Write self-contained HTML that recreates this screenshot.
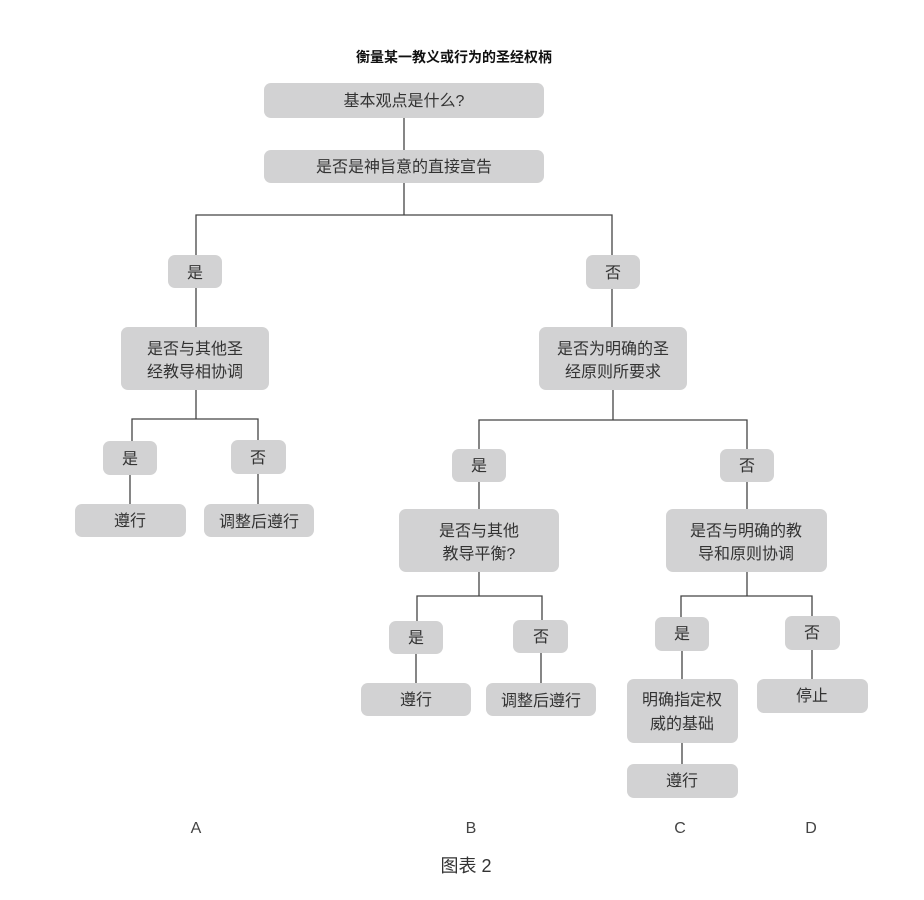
<!DOCTYPE html>
<html><head><meta charset="utf-8"><style>
body{margin:0;background:#fff}
</style></head><body>
<svg width="924" height="895" xmlns="http://www.w3.org/2000/svg" font-family="Liberation Sans, Noto Sans CJK SC, sans-serif">
<g stroke="#444" stroke-width="1.3" fill="none">
<path d="M404 118V150M404 183V215M196 255V215H612V255M196 288V327M612 289V327"/>
<path d="M196 390V419M132 441V419H258V440M130 475V504M258 474V504"/>
<path d="M613 390V420M479 449V420H747V449M479 482V509M747 482V509"/>
<path d="M479 572V596M417 621V596H542V620M416 654V683M541 653V683"/>
<path d="M747 572V596M681 617V596H812V616M682 651V679M812 650V679M682 743V764"/>
</g>
<g fill="#d2d2d3">
<rect x="264" y="83" width="280" height="35" rx="7"/>
<rect x="264" y="150" width="280" height="33" rx="7"/>
<rect x="168" y="255" width="54" height="33" rx="7"/>
<rect x="586" y="255" width="54" height="34" rx="7"/>
<rect x="121" y="327" width="148" height="63" rx="7"/>
<rect x="539" y="327" width="148" height="63" rx="7"/>
<rect x="103" y="441" width="54" height="34" rx="7"/>
<rect x="231" y="440" width="55" height="34" rx="7"/>
<rect x="75" y="504" width="111" height="33" rx="7"/>
<rect x="204" y="504" width="110" height="33" rx="7"/>
<rect x="452" y="449" width="54" height="33" rx="7"/>
<rect x="720" y="449" width="54" height="33" rx="7"/>
<rect x="399" y="509" width="160" height="63" rx="7"/>
<rect x="666" y="509" width="161" height="63" rx="7"/>
<rect x="389" y="621" width="54" height="33" rx="7"/>
<rect x="513" y="620" width="55" height="33" rx="7"/>
<rect x="361" y="683" width="110" height="33" rx="7"/>
<rect x="486" y="683" width="110" height="33" rx="7"/>
<rect x="655" y="617" width="54" height="34" rx="7"/>
<rect x="785" y="616" width="55" height="34" rx="7"/>
<rect x="627" y="679" width="111" height="64" rx="7"/>
<rect x="757" y="679" width="111" height="34" rx="7"/>
<rect x="627" y="764" width="111" height="34" rx="7"/>
</g>
<g fill="#333" font-size="16" text-anchor="middle">
<text x="454" y="62" font-weight="bold" font-size="14" fill="#111">衡量某一教义或行为的圣经权柄</text>
<text x="404" y="106">基本观点是什么?</text>
<text x="404" y="172">是否是神旨意的直接宣告</text>
<text x="195" y="278">是</text>
<text x="613" y="278">否</text>
<text x="195" y="354">是否与其他圣</text>
<text x="195" y="377">经教导相协调</text>
<text x="613" y="354">是否为明确的圣</text>
<text x="613" y="377">经原则所要求</text>
<text x="130" y="464">是</text>
<text x="258" y="463">否</text>
<text x="130" y="526">遵行</text>
<text x="259" y="527">调整后遵行</text>
<text x="479" y="471">是</text>
<text x="747" y="471">否</text>
<text x="479" y="536">是否与其他</text>
<text x="479" y="559">教导平衡?</text>
<text x="746" y="536">是否与明确的教</text>
<text x="746" y="559">导和原则协调</text>
<text x="416" y="643">是</text>
<text x="541" y="642">否</text>
<text x="416" y="705">遵行</text>
<text x="541" y="706">调整后遵行</text>
<text x="682" y="639">是</text>
<text x="812" y="638">否</text>
<text x="682" y="705">明确指定权</text>
<text x="682" y="729">威的基础</text>
<text x="812" y="701">停止</text>
<text x="682" y="786">遵行</text>
<g font-weight="normal" fill="#444">
<text x="196" y="833">A</text>
<text x="471" y="833">B</text>
<text x="680" y="833">C</text>
<text x="811" y="833">D</text>
</g>
<text x="466" y="872" font-size="18">图表 2</text>
</g>
</svg>
</body></html>
